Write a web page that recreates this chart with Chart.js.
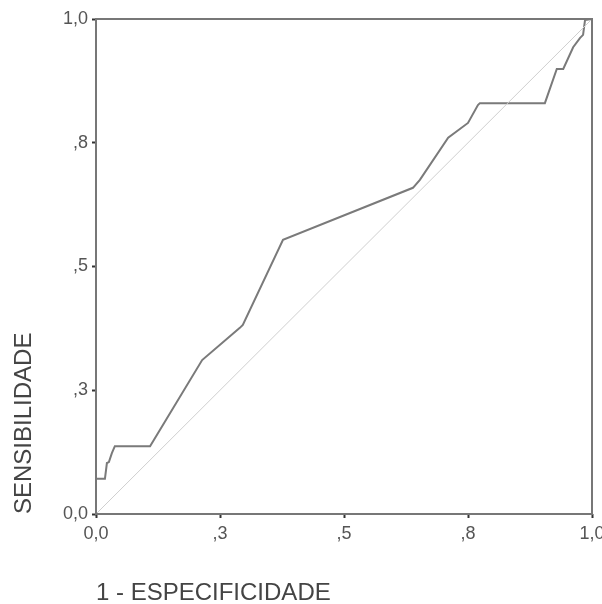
<!DOCTYPE html>
<html lang="pt">
<head>
    <meta charset="UTF-8">
    <title>Curva ROC</title>
    <script src="https://cdn.jsdelivr.net/npm/chart.js"></script>
    <style>
        body { margin: 0; background: #fff; }
    </style>
</head>
<body>
    <canvas id="roc" width="602" height="604"></canvas>

    <script>
        // Curva ROC (1 - especificidade, sensibilidade)
        const fpr  = [0, 0, 0.018, 0.022, 0.026, 0.032, 0.038, 0.109, 0.214, 0.290, 0.296, 0.377,
                      0.639, 0.653, 0.710, 0.750, 0.770, 0.774, 0.905, 0.929, 0.942, 0.962,
                      0.976, 0.982, 0.986, 1];
        const sens = [0, 0.071, 0.071, 0.103, 0.105, 0.123, 0.137, 0.137, 0.311, 0.376, 0.382, 0.554,
                      0.659, 0.675, 0.760, 0.790, 0.826, 0.830, 0.830, 0.899, 0.899, 0.943,
                      0.962, 0.968, 0.998, 1];
        // linha de referência
        const refX = [0, 1];
        const refY = [0, 1];

        const tickValues = [0, 0.25, 0.5, 0.75, 1];
        const tickLabels = ['0,0', ',3', ',5', ',8', '1,0'];

        const fontFamily = '"Liberation Sans", Arial, sans-serif';

        function tickText(value) {
            const i = tickValues.findIndex(v => Math.abs(v - value) < 1e-6);
            return i >= 0 ? tickLabels[i] : '';
        }

        // moldura em volta da área do gráfico
        const frame = {
            id: 'frame',
            afterDraw(chart) {
                const { ctx, chartArea: a } = chart;
                ctx.save();
                ctx.strokeStyle = '#777';
                ctx.lineWidth = 2;
                ctx.strokeRect(a.left, a.top, a.right - a.left, a.bottom - a.top);
                ctx.restore();
            }
        };

        const axisCommon = {
            type: 'linear',
            min: 0,
            max: 1,
            border: { display: false },
            grid: {
                drawOnChartArea: false,
                drawTicks: true,
                tickLength: 4,
                tickWidth: 2,
                tickColor: '#333'
            }
        };

        new Chart(document.getElementById('roc').getContext('2d'), {
            type: 'scatter',
            data: {
                datasets: [
                    {
                        data: refX.map((x, i) => ({ x, y: refY[i] })),
                        showLine: true,
                        borderColor: '#cfcfcf',
                        borderWidth: 1,
                        pointRadius: 0
                    },
                    {
                        data: fpr.map((x, i) => ({ x, y: sens[i] })),
                        showLine: true,
                        borderColor: '#7a7a7a',
                        borderWidth: 2,
                        pointRadius: 0,
                        tension: 0
                    }
                ]
            },
            plugins: [frame],
            options: {
                responsive: false,
                animation: false,
                layout: { padding: { left: 0, right: 10, top: 19, bottom: 0 } },
                plugins: {
                    legend: { display: false },
                    tooltip: { enabled: false }
                },
                scales: {
                    x: {
                        ...axisCommon,
                        position: 'bottom',
                        afterBuildTicks: s => { s.ticks = tickValues.map(v => ({ value: v })); },
                        afterFit: s => { s.height = 90; s.paddingLeft = 0; s.paddingRight = 0; },
                        ticks: {
                            autoSkip: false,
                            maxRotation: 0,
                            padding: 5,
                            color: '#555',
                            font: { family: fontFamily, size: 18 },
                            callback: v => tickText(v)
                        },
                        title: {
                            display: true,
                            text: '1 - ESPECIFICIDADE',
                            align: 'start',
                            color: '#444',
                            font: { family: fontFamily, size: 24, lineHeight: 0.85 },
                            padding: { top: 0, bottom: 0 }
                        }
                    },
                    y: {
                        ...axisCommon,
                        position: 'left',
                        afterBuildTicks: s => { s.ticks = tickValues.map(v => ({ value: v })); },
                        afterFit: s => { s.width = 96; s.paddingTop = 0; s.paddingBottom = 0; },
                        ticks: {
                            autoSkip: false,
                            padding: 4,
                            color: '#555',
                            font: { family: fontFamily, size: 18 },
                            callback: v => tickText(v)
                        },
                        title: {
                            display: true,
                            text: 'SENSIBILIDADE',
                            align: 'start',
                            color: '#444',
                            font: { family: fontFamily, size: 24 },
                            padding: { top: 10, bottom: 0 }
                        }
                    }
                }
            }
        });
    </script>
</body>
</html>
